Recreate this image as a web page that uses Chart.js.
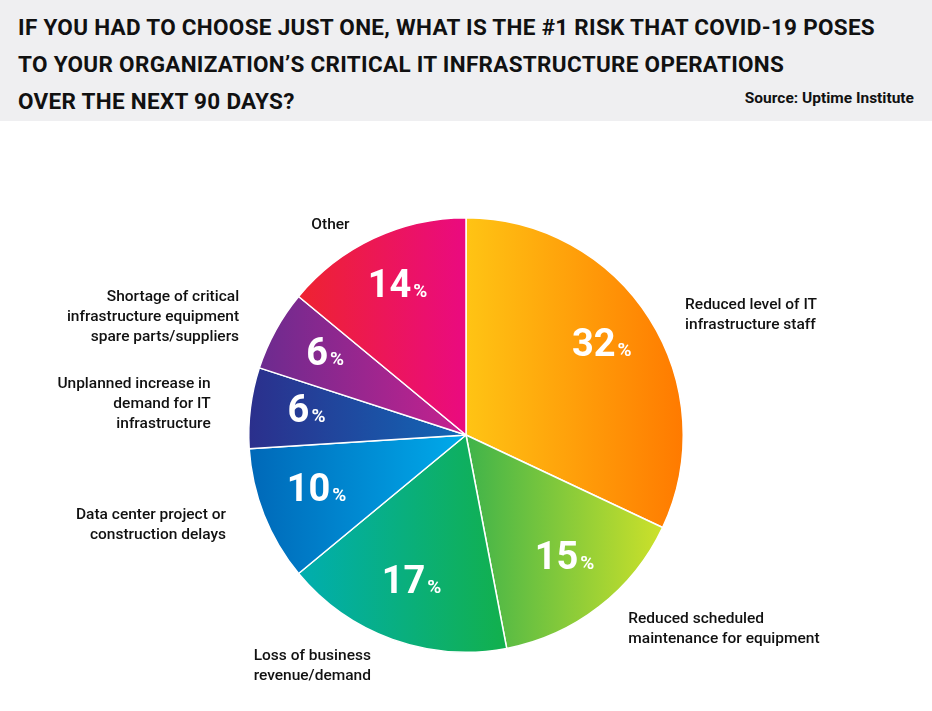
<!DOCTYPE html>
<html>
<head>
<meta charset="utf-8">
<script src="https://cdn.jsdelivr.net/npm/chart.js@4.4.1/dist/chart.umd.min.js"></script>
<style>
  body { margin: 0; background: #fff; font-family: Roboto, sans-serif; }
  #wrap { position: relative; width: 932px; height: 711px; }
  #head { position: absolute; left: 0; top: 0; width: 932px; height: 121px; background: #efeff1; }
  #title { position: absolute; left: 18px; top: 9px; font-weight: 700; font-size: 22.5px; line-height: 37px; color: #111; text-transform: uppercase; letter-spacing: 0.3px; }
  #source { position: absolute; right: 18px; top: 89px; font-weight: 700; font-size: 15.5px; color: #111; }
  canvas { position: absolute; left: 0; top: 0; }
</style>
</head>
<body>
<div id="wrap">
  <div id="head">
    <div id="title">If you had to choose just one, what is the #1 risk that COVID-19 poses<br>to your organization’s critical IT infrastructure operations<br>over the next 90 days?</div>
    <div id="source">Source: Uptime Institute</div>
  </div>
  <canvas id="pie" width="932" height="711"></canvas>
</div>
<script>
// Data
const categories = [
    ["Reduced level of IT", "infrastructure staff"],
    ["Reduced scheduled", "maintenance for equipment"],
    ["Loss of business", "revenue/demand"],
    ["Data center project or", "construction delays"],
    ["Unplanned increase in", "demand for IT", "infrastructure"],
    ["Shortage of critical", "infrastructure equipment", "spare parts/suppliers"],
    ["Other"]
];
const values = [32, 15, 17, 10, 6, 6, 14];
const gradStops = [
    ["#ffc414", "#ff7a00"],
    ["#3fb34a", "#cde12a"],
    ["#00aeb0", "#12b04c"],
    ["#0068b8", "#00abeb"],
    ["#2b2f8c", "#1168b6"],
    ["#6c2b8f", "#c7218e"],
    ["#ee2330", "#ea0a80"]
];

// horizontal gradient across each slice, set once geometry is known
const gradientPlugin = {
    id: "sliceGradients",
    beforeDatasetsDraw(chart) {
        const ctx = chart.ctx;
        chart.getDatasetMeta(0).data.forEach((arc, i) => {
            const r = arc.outerRadius;
            const xs = [0];
            for (let t = arc.startAngle; t <= arc.endAngle; t += 0.02) xs.push(Math.cos(t) * r);
            xs.push(Math.cos(arc.endAngle) * r);
            const lg = ctx.createLinearGradient(arc.x + Math.min(...xs), 0, arc.x + Math.max(...xs), 0);
            lg.addColorStop(0, gradStops[i][0]);
            lg.addColorStop(1, gradStops[i][1]);
            arc.options.backgroundColor = lg;
        });
    }
};

const labelPlugin = {
    id: "sliceLabels",
    afterDatasetsDraw(chart) {
        const ctx = chart.ctx;
        const meta = chart.getDatasetMeta(0);
        meta.data.forEach((arc, i) => {
            const mid = (arc.startAngle + arc.endAngle) / 2;
            const R = arc.outerRadius;
            const vx = arc.x + Math.cos(mid) * R * 0.74;
            const vy = arc.y + Math.sin(mid) * R * 0.74 - 6;
            ctx.save();
            ctx.fillStyle = "#fff";
            ctx.textBaseline = "alphabetic";
            const num = String(values[i]);
            ctx.font = "700 38px Roboto";
            const nw = ctx.measureText(num).width;
            ctx.font = "700 19px Roboto";
            const pw = ctx.measureText("%").width;
            const sx = vx - (nw + pw + 2) / 2;
            ctx.font = "700 38px Roboto";
            ctx.textAlign = "left";
            ctx.fillText(num, sx, vy + 13);
            ctx.font = "700 19px Roboto";
            ctx.fillText("%", sx + nw + 2, vy + 13);

            const lines = categories[i];
            const lr = R + 28;
            const right = Math.cos(mid) > 0;
            const lx = arc.x + Math.cos(mid) * lr + (right ? 12 : -12);
            let ly = arc.y + Math.sin(mid) * lr;
            if (Math.abs(Math.sin(mid)) > 0.5 && Math.sin(mid) < 0) ly += 12;
            ctx.fillStyle = "#111";
            ctx.font = "500 15.5px Roboto";
            ctx.textAlign = right ? "left" : "right";
            ctx.textBaseline = "middle";
            const lh = 20;
            const top = ly - (lines.length - 1) * lh / 2;
            lines.forEach((t, k) => ctx.fillText(t, lx, top + k * lh));
            ctx.restore();
        });
    }
};

new Chart(document.getElementById("pie"), {
    type: "pie",
    data: {
        labels: categories.map(c => c.join(" ")),
        datasets: [{
            data: values,
            backgroundColor: gradStops.map(c => c[0]),
            borderColor: "#ffffff",
            borderWidth: 1.5
        }]
    },
    options: {
        responsive: false,
        animation: false,
        layout: { padding: { top: 217, bottom: 58, left: 248, right: 248 } },
        plugins: {
            legend: { display: false },
            tooltip: { enabled: false }
        }
    },
    plugins: [gradientPlugin, labelPlugin]
});
</script>
</body>
</html>
